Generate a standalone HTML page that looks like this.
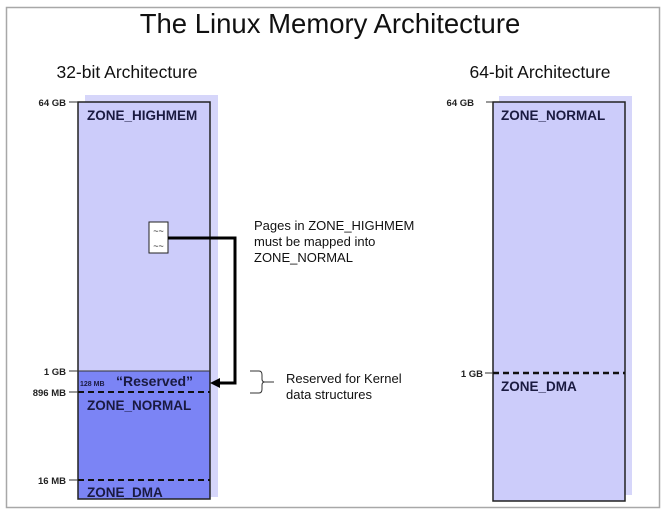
<!DOCTYPE html>
<html><head><style>body{margin:0;background:#fff}svg{display:block}text{font-family:"Liberation Sans",sans-serif}</style></head>
<body>
<svg width="668" height="513" viewBox="0 0 668 513" xmlns="http://www.w3.org/2000/svg">
<rect x="6.5" y="7.5" width="653" height="500" fill="#fff" stroke="#a8a8a8" stroke-width="1.5"/>
<text x="330" y="33" font-size="27.5" text-anchor="middle" fill="#111">The Linux Memory Architecture</text>
<text x="127" y="78" font-size="17.5" text-anchor="middle" fill="#111">32-bit Architecture</text>
<text x="540" y="78" font-size="17.5" text-anchor="middle" fill="#111">64-bit Architecture</text>

<!-- 32-bit -->
<rect x="85" y="95" width="133" height="402" fill="#d6d6fa"/>
<rect x="78" y="102" width="132" height="269" fill="#ccccfa"/>
<rect x="78" y="371" width="132" height="128" fill="#7b84f5"/>
<rect x="78" y="102" width="132" height="397" fill="none" stroke="#222" stroke-width="1.5"/>
<line x1="78" y1="371" x2="210" y2="371" stroke="#333" stroke-width="1"/>
<line x1="78" y1="392" x2="210" y2="392" stroke="#111" stroke-width="2" stroke-dasharray="6,4"/>
<line x1="78" y1="480" x2="210" y2="480" stroke="#111" stroke-width="2" stroke-dasharray="6,4"/>
<g font-size="9.5" font-weight="bold" fill="#222" text-anchor="end">
<text x="66" y="106">64 GB</text>
<text x="66" y="375">1 GB</text>
<text x="66" y="396">896 MB</text>
<text x="66" y="484">16 MB</text>
</g>
<g stroke="#333" stroke-width="1">
<line x1="69" y1="102" x2="78" y2="102"/><line x1="69" y1="371" x2="78" y2="371"/>
<line x1="69" y1="392" x2="78" y2="392"/><line x1="69" y1="480" x2="78" y2="480"/>
</g>
<g font-size="13.5" font-weight="bold" fill="#1a1a40">
<text x="87" y="120">ZONE_HIGHMEM</text>
<text x="87" y="410">ZONE_NORMAL</text>
<text x="87" y="497">ZONE_DMA</text>
<text x="80" y="386" font-size="7">128 MB</text>
<text x="116" y="386" font-size="14">“Reserved”</text>
</g>
<rect x="149" y="222" width="19" height="31" fill="#fff" stroke="#222" stroke-width="1"/>
<text x="158.5" y="234" font-size="9" text-anchor="middle" fill="#222">~~</text>
<text x="158.5" y="249" font-size="9" text-anchor="middle" fill="#222">~~</text>
<polyline points="168,238 235,238 235,383 218,383" fill="none" stroke="#000" stroke-width="3"/>
<polygon points="210,383 220,378 220,388" fill="#000"/>
<text x="254" y="230" font-size="13" fill="#111">Pages in ZONE_HIGHMEM</text>
<text x="254" y="246" font-size="13" fill="#111">must be mapped into</text>
<text x="254" y="262" font-size="13" fill="#111">ZONE_NORMAL</text>
<path d="M250,371 h9 q3,0 3,4 v4 q0,3 3,3 h9 M265,382 q-3,0 -3,3 v4 q0,4 -3,4 h-9" fill="none" stroke="#333" stroke-width="1"/>
<text x="286" y="383" font-size="13" fill="#111">Reserved for Kernel</text>
<text x="286" y="399" font-size="13" fill="#111">data structures</text>

<!-- 64-bit -->
<rect x="499" y="96" width="133" height="399" fill="#d6d6fa"/>
<rect x="493" y="102" width="132" height="399" fill="#ccccfa" stroke="#222" stroke-width="1.5"/>
<line x1="493" y1="373" x2="625" y2="373" stroke="#111" stroke-width="2.5" stroke-dasharray="6,4"/>
<g font-size="9.5" font-weight="bold" fill="#222" text-anchor="end">
<text x="474" y="106">64 GB</text>
<text x="483" y="377">1 GB</text>
</g>
<line x1="486" y1="102" x2="493" y2="102" stroke="#333"/>
<line x1="485" y1="373" x2="493" y2="373" stroke="#333"/>
<g font-size="13.5" font-weight="bold" fill="#1a1a40">
<text x="501" y="120">ZONE_NORMAL</text>
<text x="501" y="391">ZONE_DMA</text>
</g>
</svg>
</body></html>
